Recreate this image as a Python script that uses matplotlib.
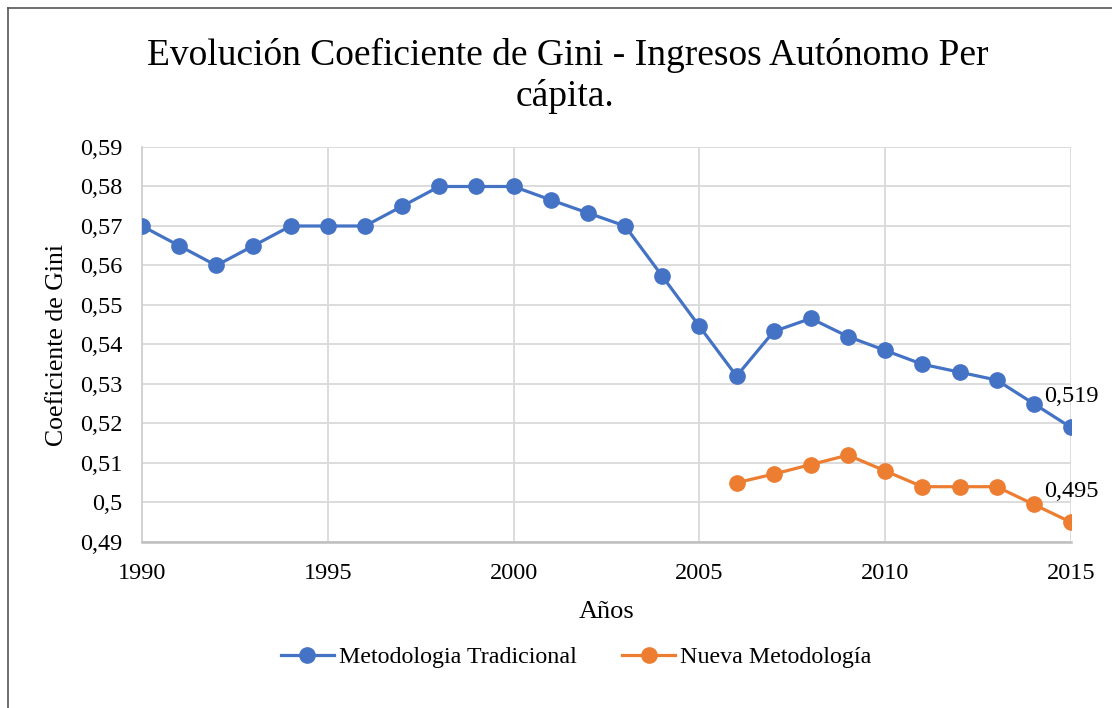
import matplotlib
matplotlib.use("Agg")
import matplotlib.pyplot as plt
from matplotlib.ticker import MultipleLocator, FuncFormatter

# datos
anios_trad = list(range(1990, 2016))
gini_trad = [0.570, 0.565, 0.560, 0.565, 0.570, 0.570, 0.570, 0.575, 0.580, 0.580,
             0.580, 0.5766, 0.5733, 0.570, 0.5573, 0.5446, 0.532, 0.5433, 0.5466, 0.542,
             0.5385, 0.535, 0.533, 0.531, 0.525, 0.519]
anios_nueva = list(range(2006, 2016))
gini_nueva = [0.505, 0.5072, 0.5096, 0.512, 0.508, 0.504, 0.504, 0.504, 0.4995, 0.495]

titulo_1 = "Evolución Coeficiente de Gini - Ingresos Autónomo Per"
titulo_2 = "cápita."
azul = "#4472C4"
naranja = "#ED7D31"

plt.rcParams['font.family'] = ['Liberation Serif', 'DejaVu Serif']

fig = plt.figure(figsize=(11.12, 7.08), dpi=100)
ax = fig.add_axes([142 / 1112, 1 - 542 / 708, (1071 - 142) / 1112, (542 - 147) / 708])

ax.plot(anios_trad, gini_trad, color=azul, lw=2.3, marker='o', ms=11,
        label="Metodologia Tradicional", zorder=3)
ax.plot(anios_nueva, gini_nueva, color=naranja, lw=2.3, marker='o', ms=11,
        label="Nueva Metodología", zorder=3)

# etiquetas del ultimo punto
for xs, ys in [(anios_trad, gini_trad), (anios_nueva, gini_nueva)]:
    ax.annotate(f"{ys[-1]:.3f}".replace('.', ','), (xs[-1], ys[-1]), xytext=(0, 22),
                textcoords='offset points', ha='center', va='center', fontsize=17.5)

ax.set_xlim(1990, 2015)
ax.set_ylim(0.49, 0.59)
ax.xaxis.set_major_locator(MultipleLocator(5))
ax.yaxis.set_major_locator(MultipleLocator(0.01))
ax.yaxis.set_major_formatter(FuncFormatter(lambda v, p: ('%g' % round(v, 3)).replace('.', ',')))
ax.tick_params(length=0, labelsize=17.5)
ax.tick_params(axis='y', pad=14)
ax.tick_params(axis='x', pad=15)
ax.grid(True, color='#D9D9D9', lw=1.3)
ax.set_axisbelow(True)
for s in ['top', 'right']:
    ax.spines[s].set_visible(False)
ax.spines['left'].set_color('#D0D0D0')
ax.spines['left'].set_linewidth(1.3)
ax.spines['bottom'].set_color('#BFBFBF')
ax.spines['bottom'].set_linewidth(1.8)

ax.set_xlabel("Años", fontsize=19, labelpad=12)
ax.set_ylabel("Coeficiente de Gini", fontsize=18.5, labelpad=9)

fig.text(568 / 1112, 1 - 55 / 708, titulo_1, ha='center', va='center', fontsize=27)
fig.text(565 / 1112, 1 - 97 / 708, titulo_2, ha='center', va='center', fontsize=27)

fig.legend(loc='center', bbox_to_anchor=(576 / 1112, 1 - 657 / 708), ncol=2, frameon=False,
           fontsize=17.3, handlelength=2.2, columnspacing=1.9, handletextpad=0.2)

# marco
fig.add_artist(plt.Line2D([8 / 1112, 8 / 1112], [0, 1 - 8 / 708], color='#555555', lw=1.2,
                          transform=fig.transFigure))
fig.add_artist(plt.Line2D([8 / 1112, 1], [1 - 8 / 708, 1 - 8 / 708], color='#555555', lw=1.2,
                          transform=fig.transFigure))

fig.savefig("out.png", dpi=100)
